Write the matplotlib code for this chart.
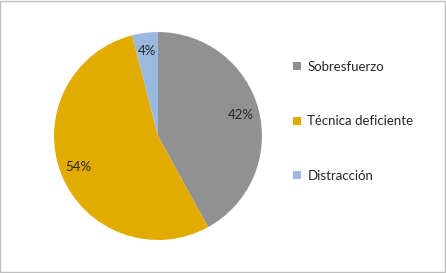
import matplotlib
matplotlib.use("Agg")
import matplotlib.pyplot as plt
from matplotlib.patches import Rectangle

labels = ["Sobresfuerzo", "Técnica deficiente", "Distracción"]
values = [42, 54, 4]
colors = ["#919191", "#e3aa00", "#9ab9e0"]

plt.rcParams['font.family'] = ['Lato', 'DejaVu Sans']

fig = plt.figure(figsize=(4.46, 2.73), dpi=100)
fig.patches.append(Rectangle((0.001, 0.002), 0.997, 0.995, transform=fig.transFigure,
                             fill=False, edgecolor="#bfbfbf", linewidth=1))

# pie axes: center ~ (158,136) px, radius ~104 px
ax = fig.add_axes([(158 - 105) / 446, (273 - 136 - 105) / 273, 210 / 446, 210 / 273])
wedges, texts, autotexts = ax.pie(values, colors=colors, startangle=90, counterclock=False,
                                  autopct='%1.0f%%', pctdistance=0.82, radius=0.99,
                                  textprops={'fontsize': 9.5, 'color': '#262626'})
ax.set_xlim(-1, 1)
ax.set_ylim(-1, 1)
ax.set_aspect('equal')

leg = fig.legend(wedges, labels, loc='upper left', bbox_to_anchor=(281 / 446, 1 - 49 / 273),
                 frameon=False, fontsize=9.5, labelspacing=3.22, handlelength=0.6,
                 handleheight=0.6, handletextpad=0.5, labelcolor='#262626')

plt.savefig("out.png", dpi=100)
plt.close()
